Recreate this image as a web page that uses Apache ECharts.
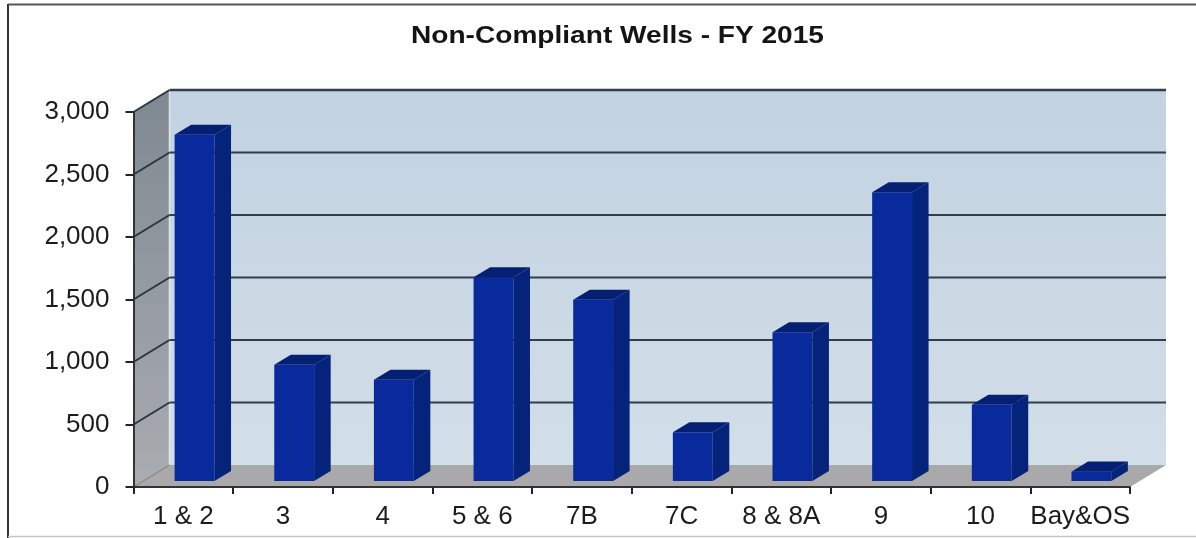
<!DOCTYPE html>
<html><head><meta charset="utf-8">
<script src="https://cdn.jsdelivr.net/npm/echarts@6/dist/echarts.min.js"></script>
<style>html,body{margin:0;padding:0;background:#fff}#c{width:1196px;height:538px}</style>
</head><body><div id="c"></div>
<script>
const categories = ['1 & 2','3','4','5 & 6','7B','7C','8 & 8A','9','10','Bay&OS'];
const wells = [2770,930,810,1630,1450,390,1190,2310,610,75];
const yTicks = [0,500,1000,1500,2000,2500,3000];
const titleText = 'Non-Compliant Wells - FY 2015';

const DX = 36, DY = -22, F1 = 0.27, F2 = 0.73, BAR = 0.4, SHIFT = 1.5;
const chart = echarts.init(document.getElementById('c'), null, {renderer:'canvas'});
const poly = (points, fill) => ({type:'polygon', shape:{points}, style:{fill}, silent:true});
const ln = (x1,y1,x2,y2,stroke,w) => ({type:'line', shape:{x1,y1,x2,y2}, style:{stroke,lineWidth:w}, silent:true});
const grad = (a,b) => ({type:'linear',x:0,y:0,x2:0,y2:1,colorStops:[{offset:0,color:a},{offset:1,color:b}]});

function renderWalls(params, api){
  const r = params.coordSys, l = r.x, w = r.x + r.width;
  const y0 = api.coord([0,0])[1], yT = api.coord([0,3000])[1];
  return {type:'group', children:[
    poly([[l,y0],[l,yT],[l+DX,yT+DY],[l+DX,y0+DY]], grad('#7f8991','#a9acb1')),
    poly([[l+DX,yT+DY],[w+DX,yT+DY],[w+DX,y0+DY],[l+DX,y0+DY]], grad('#c2d2e1','#d2dee8')),
    poly([[l,y0],[w,y0],[w+DX,y0+DY],[l+DX,y0+DY]], '#a9a9ab'),
    ln(l+DX,yT+DY,l+DX,y0+DY,'#dfe6ec',1.5)
  ]};
}
function renderGrid(params, api){
  const r = params.coordSys, l = r.x, w = r.x + r.width;
  const v = api.value(0), y = api.coord([0,v])[1];
  if (v === 0) return {type:'group', children:[ln(l,y,l+DX,y+DY,'#777b80',1)]};
  return {type:'group', children:[
    ln(l,y,l+DX,y+DY,'#2b3640',2),
    ln(l+DX,y+DY,w+DX,y+DY,'#2f3f4e',v === 3000 ? 2.5 : 2)
  ]};
}
function renderBar(params, api){
  const i = api.value(0), v = api.value(1);
  const c = api.coord([i,v]), b = api.coord([i,0]);
  const hw = api.size([1,0])[0]*BAR/2;
  const x1 = c[0]-hw+DX*F1+SHIFT, x2 = c[0]+hw+DX*F1+SHIFT;
  const yt = c[1]+DY*F1, yb = b[1]+DY*F1;
  const dx = DX*(F2-F1), dy = DY*(F2-F1);
  return {type:'group', children:[
    poly([[x1,yb],[x2,yb],[x2,yt],[x1,yt]], '#082a9c'),
    poly([[x2,yb],[x2+dx,yb+dy],[x2+dx,yt+dy],[x2,yt]], '#06237c'),
    poly([[x1,yt],[x2,yt],[x2+dx,yt+dy],[x1+dx,yt+dy]], '#051f72')
  ]};
}
const labelFont = {fontFamily:'Liberation Sans, Arial, sans-serif', fontSize:26, color:'#1c1c1c'};
chart.setOption({
  animation:false,
  backgroundColor:'#ffffff',
  grid:{left:133.5,right:66,top:112,bottom:51,containLabel:false},
  xAxis:{type:'category',data:categories,z:5,
    axisLine:{lineStyle:{color:'#333',width:2}},
    axisTick:{show:true,length:7,alignWithLabel:false,lineStyle:{color:'#222',width:2}},
    axisLabel:Object.assign({margin:17,interval:0},labelFont),
    splitLine:{show:false}},
  yAxis:{type:'value',min:0,max:3000,interval:500,z:5,
    axisLine:{show:true,lineStyle:{color:'#333',width:2}},
    axisTick:{show:true,length:8,lineStyle:{color:'#222',width:2}},
    axisLabel:Object.assign({margin:24,verticalAlign:'middle',padding:[6,0,0,0]},labelFont),
    splitLine:{show:false}},
  graphic:[
    {type:'text',z:100,x:617.5,y:36.5,scaleX:1.17,silent:true,
      style:{text:titleText,align:'center',verticalAlign:'middle',fill:'#141414',
        font:'bold 24px "Liberation Sans", Arial, sans-serif'}},
    {type:'line',z:100,shape:{x1:8,y1:4,x2:8,y2:538},style:{stroke:'#333',lineWidth:2},silent:true},
    {type:'line',z:100,shape:{x1:8,y1:4.5,x2:1196,y2:4.5},style:{stroke:'#555',lineWidth:2},silent:true},
    {type:'line',z:100,shape:{x1:8,y1:536.5,x2:1196,y2:536.5},style:{stroke:'#c4c4c4',lineWidth:1.5},silent:true}
  ],
  series:[
    {type:'custom',name:'walls',z:1,silent:true,coordinateSystem:'cartesian2d',data:[[0]],renderItem:renderWalls,encode:{x:0}},
    {type:'custom',name:'grid',z:2,silent:true,coordinateSystem:'cartesian2d',data:yTicks.map(v=>[v]),renderItem:renderGrid,encode:{y:0}},
    {type:'custom',name:'Non-Compliant Wells',z:3,silent:true,coordinateSystem:'cartesian2d',
      data:wells.map((v,i)=>[i,v]),renderItem:renderBar,encode:{x:0,y:1}}
  ]
});
</script></body></html>
